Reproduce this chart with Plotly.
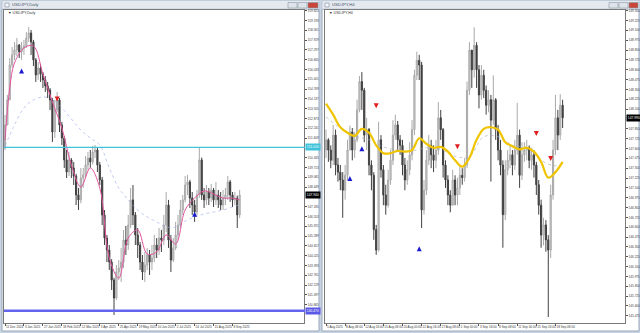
import plotly.graph_objects as go

W, H = 640, 333

# ---------------- Left panel: USDJPY, Daily ----------------
d_first_open = 150.97
d_close = [152.45, 154.07, 156.32, 156.97, 157.29, 157.61, 157.16, 157.42, 157.55, 158.06,
           158.39, 157.81, 156.65, 155.68, 156.13, 155.74, 155.36, 154.97, 154.71, 154.07,
           152.00, 153.42, 154.07, 152.45, 151.61, 150.20, 149.42, 150.20, 149.68, 149.16,
           147.94, 147.62, 149.03, 149.23, 149.87, 150.32, 150.07, 150.71, 150.84, 149.87,
           148.91, 146.65, 145.16, 144.39, 143.61, 142.45, 141.29, 142.97, 143.23, 143.61,
           145.03, 144.71, 146.00, 147.62, 146.65, 145.36, 144.71, 143.61, 142.97, 143.42,
           144.07, 143.61, 143.87, 144.71, 144.39, 145.16, 145.03, 146.00, 147.29, 145.03,
           143.74, 144.52, 145.36, 146.00, 146.97, 147.62, 148.58, 148.78, 147.74, 147.29,
           146.84, 147.94, 150.20, 147.94, 147.62, 148.13, 147.74, 148.26, 147.62, 147.94,
           147.62, 147.29, 147.74, 147.94, 148.78, 147.94, 147.62, 147.74, 146.65, 147.94]
d_high = [153.10, 154.39, 156.77, 157.48, 157.81, 158.06, 157.68, 157.81, 157.94, 158.45,
          158.77, 158.58, 157.94, 156.77, 156.52, 156.39, 155.87, 155.61, 155.23, 154.84,
          154.20, 154.07, 154.58, 154.20, 152.65, 151.75, 150.84, 150.71, 150.32, 150.07,
          149.30, 148.39, 149.68, 149.68, 150.45, 150.71, 150.84, 151.10, 151.16, 151.00,
          150.07, 149.10, 146.97, 145.36, 144.71, 143.80, 142.60, 143.42, 143.74, 144.52,
          145.68, 145.94, 146.65, 148.39, 148.58, 146.84, 145.81, 144.91, 144.07, 144.26,
          144.52, 144.39, 144.71, 145.36, 145.16, 145.81, 145.68, 146.65, 148.13, 147.62,
          145.36, 145.16, 146.20, 146.65, 147.62, 147.94, 149.16, 149.23, 148.91, 148.13,
          147.62, 148.26, 150.97, 150.35, 148.39, 148.58, 148.39, 148.65, 148.39, 148.78,
          148.26, 148.13, 148.26, 148.39, 149.16, 148.91, 148.13, 148.13, 147.90, 148.26]
d_low = [150.84, 152.45, 154.07, 156.13, 156.65, 156.90, 156.77, 156.65, 156.97, 157.42,
         157.81, 156.97, 156.26, 155.23, 155.36, 155.23, 154.84, 154.58, 154.19, 153.42,
         151.36, 151.61, 153.29, 152.00, 151.16, 149.68, 149.03, 149.16, 149.03, 148.58,
         147.29, 146.97, 147.40, 148.39, 149.05, 149.55, 149.68, 149.90, 150.32, 149.42,
         148.58, 146.00, 144.71, 143.61, 143.10, 141.81, 140.20, 141.17, 142.45, 142.33,
         143.23, 144.07, 144.39, 145.81, 146.00, 144.71, 143.87, 143.10, 142.45, 142.33,
         143.10, 142.78, 143.10, 143.61, 143.87, 144.07, 144.26, 144.71, 145.55, 144.52,
         142.97, 143.61, 144.39, 145.03, 145.81, 146.65, 147.45, 147.94, 147.10, 146.65,
         146.20, 146.65, 147.75, 147.62, 147.10, 147.29, 147.29, 147.49, 147.16, 147.29,
         147.10, 146.97, 146.97, 147.29, 147.62, 147.49, 147.16, 147.29, 145.81, 146.45]
d_open = [d_first_open] + d_close[:-1]

d_fast_idx = [0, 2, 4, 8, 12, 16, 20, 24, 28, 32, 36, 40, 44, 48, 52, 56, 60, 64, 68, 72, 76, 80, 84, 88, 92, 96, 99]
d_fast_ma = [151.49, 154.84, 156.45, 157.42, 157.55, 155.74, 153.94, 152.26, 149.87, 148.45, 149.68, 148.39, 143.87,
             142.58, 145.16, 145.68, 144.13, 144.26, 145.36, 144.78, 146.97, 147.74, 148.20, 148.00, 147.74, 147.74, 147.62]
d_slow_idx = [0, 4, 8, 12, 16, 20, 24, 28, 32, 36, 40, 44, 48, 52, 56, 60, 64, 68, 72, 76, 80, 84, 88, 92, 96, 99]
d_slow_ma = [151.10, 152.45, 153.55, 154.07, 154.26, 154.13, 153.55, 152.84, 152.13, 151.61, 151.16, 149.68, 148.39,
             147.62, 146.97, 146.52, 146.20, 145.87, 145.87, 146.26, 146.52, 146.71, 146.84, 146.97, 147.16, 147.29]

d_buy_idx = [7, 80]
d_buy_price = [156.10, 146.86]
d_sell_idx = [22]
d_sell_price = [153.96]

d_level_cyan = 151.01
d_level_blue = 140.47

d_date_idx = [0, 8, 16, 24, 32, 40, 48, 56, 64, 72, 80, 88, 96]
d_date_labels = ["11 Dec 2024", "3 Jan 2025", "27 Jan 2025", "18 Feb 2025", "12 Mar 2025", "3 Apr 2025",
                 "25 Apr 2025", "19 May 2025", "10 Jun 2025", "2 Jul 2025", "24 Jul 2025", "15 Aug 2025", "8 Sep 2025"]
# the label that sits under the current-price tag is hidden in the reference, so it is left out
d_price_ticks = [159.825, 159.193, 158.561, 157.929, 157.297, 156.665, 156.033, 155.401, 154.769, 154.137,
                 153.505, 152.873, 152.241, 151.609, 150.345, 149.713, 149.081, 148.449,
                 147.185, 146.553, 145.921, 145.289, 144.657, 144.025, 143.393, 142.761, 142.129, 141.497,
                 140.865]

# ---------------- Right panel: USDJPY, H4 ----------------
h_first_open = 147.58
h_close = [147.71, 147.58, 147.45, 147.77, 147.39, 147.30, 147.20, 147.07, 147.26, 147.58,
           147.81, 147.58, 147.71, 148.09, 148.45, 148.34, 147.77, 147.84, 147.39, 147.26,
           146.57, 146.31, 147.71, 147.33, 147.01, 146.88, 147.20, 147.45, 147.77, 147.90,
           147.71, 147.64, 147.39, 147.20, 147.33, 147.52, 147.84, 148.53, 148.72, 148.66,
           146.82, 147.07, 147.45, 147.64, 147.52, 147.45, 147.58, 147.99, 147.84, 147.39,
           147.20, 147.01, 146.88, 147.20, 147.01, 147.10, 147.26, 147.23, 147.39, 148.34,
           148.85, 148.60, 148.91, 148.60, 148.28, 148.53, 148.34, 148.15, 148.22, 147.96,
           148.22, 147.84, 147.58, 147.39, 146.76, 147.33, 147.45, 147.52, 147.39, 147.58,
           147.77, 147.26, 147.52, 147.58, 147.61, 147.45, 147.52, 147.39, 147.14, 146.88,
           146.50, 146.63, 146.44, 146.31, 147.01, 147.58, 147.99, 147.77, 148.15, 147.99]
h_high = [147.84, 147.73, 147.64, 147.90, 147.84, 147.48, 147.39, 147.30, 147.39, 147.71,
          147.89, 147.86, 147.81, 148.22, 148.52, 148.57, 148.37, 147.99, 147.86, 147.45,
          147.30, 146.63, 147.94, 147.77, 147.39, 147.14, 147.33, 147.58, 147.96, 148.03,
          147.95, 147.77, 147.71, 147.48, 147.45, 147.68, 147.96, 148.60, 148.83, 148.79,
          148.70, 147.20, 147.58, 147.77, 147.71, 147.64, 147.71, 148.19, 148.09, 147.86,
          147.45, 147.26, 147.07, 147.33, 147.26, 147.23, 147.39, 147.35, 147.48, 148.45,
          148.95, 148.79, 149.14, 148.95, 148.66, 148.66, 148.60, 148.40, 148.34, 148.28,
          148.53, 148.24, 147.90, 147.71, 147.45, 147.45, 147.58, 147.64, 147.58, 147.71,
          148.18, 147.84, 147.68, 147.68, 147.71, 147.64, 147.61, 147.58, 147.43, 147.20,
          146.95, 146.72, 146.69, 146.50, 147.14, 147.71, 148.28, 148.09, 148.29, 148.22]
h_low = [147.48, 147.43, 147.35, 147.39, 147.26, 147.18, 147.07, 146.72, 146.95, 147.20,
         147.58, 147.45, 147.48, 147.68, 148.06, 148.09, 147.68, 147.58, 147.26, 147.07,
         146.44, 146.25, 146.29, 147.23, 146.88, 146.76, 146.85, 147.14, 147.39, 147.71,
         147.58, 147.52, 147.26, 147.07, 147.14, 147.26, 147.45, 147.77, 148.47, 148.47,
         146.59, 146.76, 147.01, 147.39, 147.35, 147.30, 147.35, 147.52, 147.71, 147.23,
         147.10, 146.88, 146.79, 146.88, 146.88, 146.88, 147.01, 147.14, 147.18, 147.35,
         148.28, 148.37, 148.50, 148.37, 148.11, 148.22, 148.24, 148.03, 148.06, 147.18,
         147.90, 147.71, 147.45, 147.26, 146.34, 146.69, 147.26, 147.35, 147.26, 147.33,
         147.52, 147.10, 147.20, 147.43, 147.45, 147.35, 147.33, 147.23, 147.01, 146.76,
         146.34, 146.37, 146.29, 145.46, 146.21, 146.95, 147.52, 147.58, 147.71, 147.86]
h_open = [h_first_open] + h_close[:-1]

h_fast_idx = list(range(0, 100, 3))
h_fast_ma = [148.17, 148.03, 147.87, 147.80, 147.76, 147.85, 147.80, 147.64, 147.54, 147.54, 147.57, 147.56,
             147.58, 147.73, 147.66, 147.61, 147.62, 147.56, 147.45, 147.37, 147.48, 147.71, 147.85, 147.87,
             147.84, 147.68, 147.63, 147.59, 147.61, 147.56, 147.43, 147.23, 147.30, 147.43]
h_slow_idx = [0, 6, 12, 18, 24, 30, 36, 42, 48, 54, 60, 66, 72, 78, 84, 90, 96, 99]
h_slow_ma = [148.00, 147.86, 147.76, 147.71, 147.62, 147.58, 147.57, 147.61, 147.59, 147.50, 147.50, 147.75,
             147.75, 147.64, 147.61, 147.45, 147.38, 147.42]

h_buy_idx = [10, 15, 39]
h_buy_price = [147.25, 147.63, 146.36]
h_sell_idx = [21, 55, 88, 94]
h_sell_price = [148.11, 147.59, 147.76, 147.44]

h_date_idx = [0, 8, 16, 24, 32, 40, 48, 56, 64, 72, 80, 88, 96]
h_date_labels = ["5 Aug 2025", "8 Aug 08:00", "12 Aug 16:00", "15 Aug 08:00", "20 Aug 00:00", "22 Aug 16:00",
                 "27 Aug 08:00", "1 Sep 00:00", "3 Sep 16:00", "8 Sep 08:00", "11 Sep 00:00", "15 Sep 16:00",
                 "18 Sep 08:00"]
h_price_ticks = [149.350, 149.225, 149.100, 148.975, 148.850, 148.725, 148.600, 148.475, 148.350, 148.225,
                 148.100, 147.850, 147.725, 147.600, 147.475, 147.350, 147.225, 147.100, 146.975,
                 146.850, 146.725, 146.600, 146.475, 146.350, 146.225, 146.100, 145.975, 145.850, 145.725,
                 145.600, 145.475]

# ---------------- helpers ----------------
def fx(x):
    return x / W

def fy(y):
    return 1 - y / H

FONT = "Liberation Sans"
tick_font = dict(family=FONT, size=3.1, color="#3a3a3a")

fig = go.Figure()

candle_style = dict(
    increasing=dict(line=dict(color="#a9a9a9", width=1), fillcolor="#d2d2d2"),
    decreasing=dict(line=dict(color="#404040", width=1), fillcolor="#404040"),
    whiskerwidth=0, hoverinfo="skip", showlegend=False,
)

fig.add_trace(go.Candlestick(x=list(range(len(d_close))), open=d_open, high=d_high, low=d_low,
                             close=d_close, xaxis="x", yaxis="y", **candle_style))
fig.add_trace(go.Scatter(x=d_slow_idx, y=d_slow_ma, mode="lines", xaxis="x", yaxis="y",
                         line=dict(color="#9aa6ea", width=0.6, dash="dot", shape="spline"),
                         hoverinfo="skip", showlegend=False))
fig.add_trace(go.Scatter(x=d_fast_idx, y=d_fast_ma, mode="lines", xaxis="x", yaxis="y",
                         line=dict(color="#e2559f", width=1.0, shape="spline"),
                         hoverinfo="skip", showlegend=False))
fig.add_trace(go.Scatter(x=d_buy_idx, y=d_buy_price, mode="markers", xaxis="x", yaxis="y",
                         marker=dict(symbol="arrow-up", size=5, color="#1a1ad0"),
                         hoverinfo="skip", showlegend=False))
fig.add_trace(go.Scatter(x=d_sell_idx, y=d_sell_price, mode="markers", xaxis="x", yaxis="y",
                         marker=dict(symbol="arrow-down", size=5, color="#e01e1e"),
                         hoverinfo="skip", showlegend=False))

fig.add_trace(go.Candlestick(x=list(range(len(h_close))), open=h_open, high=h_high, low=h_low,
                             close=h_close, xaxis="x2", yaxis="y2", **candle_style))
fig.add_trace(go.Scatter(x=h_slow_idx, y=h_slow_ma, mode="lines", xaxis="x2", yaxis="y2",
                         line=dict(color="#a8a8a8", width=0.6, dash="dot", shape="spline"),
                         hoverinfo="skip", showlegend=False))
fig.add_trace(go.Scatter(x=h_fast_idx, y=h_fast_ma, mode="lines", xaxis="x2", yaxis="y2",
                         line=dict(color="#f0c400", width=2.2, shape="spline"),
                         hoverinfo="skip", showlegend=False))
fig.add_trace(go.Scatter(x=h_buy_idx, y=h_buy_price, mode="markers", xaxis="x2", yaxis="y2",
                         marker=dict(symbol="arrow-up", size=5, color="#1a1ad0"),
                         hoverinfo="skip", showlegend=False))
fig.add_trace(go.Scatter(x=h_sell_idx, y=h_sell_price, mode="markers", xaxis="x2", yaxis="y2",
                         marker=dict(symbol="arrow-down", size=5, color="#e01e1e"),
                         hoverinfo="skip", showlegend=False))

ydom = [1 - 323 / H, 1 - 10 / H]
axis_common = dict(showgrid=False, zeroline=False, showline=True, mirror=True, linecolor="#7a7a7a",
                   linewidth=1, ticks="outside", ticklen=2, tickcolor="#555", tickfont=tick_font,
                   fixedrange=True)

fig.update_layout(
    width=W, height=H, margin=dict(l=0, r=0, t=0, b=0),
    paper_bgcolor="#c9d4e2", plot_bgcolor="#ffffff", showlegend=False, hovermode=False,
    xaxis=dict(domain=[fx(4), fx(304)], range=[-0.42, 126.16], anchor="y", tickangle=0,
               tickvals=d_date_idx, ticktext=d_date_labels, ticklabelposition="outside right",
               rangeslider=dict(visible=False), **axis_common),
    yaxis=dict(domain=ydom, range=[139.68, 159.87], anchor="x", side="right",
               tickvals=d_price_ticks, tickformat=".3f", **axis_common),
    xaxis2=dict(domain=[fx(325), fx(625)], range=[-0.42, 125.1], anchor="y2", tickangle=0,
                tickvals=h_date_idx, ticktext=h_date_labels, ticklabelposition="outside right",
                rangeslider=dict(visible=False), **axis_common),
    yaxis2=dict(domain=ydom, range=[145.384, 149.359], anchor="x2", side="right",
                tickvals=h_price_ticks, tickformat=".3f", **axis_common),
)

shapes = []
# window client areas and title bars
for x0, x1 in [(2, 319), (322, 639)]:
    shapes.append(dict(type="rect", xref="paper", yref="paper", x0=fx(x0), x1=fx(x1), y0=fy(331), y1=fy(9),
                       fillcolor="#ffffff", line=dict(color="#9aa9bd", width=1), layer="below"))
    shapes.append(dict(type="rect", xref="paper", yref="paper", x0=fx(x0), x1=fx(x1), y0=fy(9), y1=fy(0.5),
                       fillcolor="#e4e9f0", line=dict(color="#b4c0cf", width=0.6), layer="below"))
    shapes.append(dict(type="rect", xref="paper", yref="paper", x0=fx(x0 + 3), x1=fx(x0 + 7), y0=fy(7), y1=fy(3),
                       fillcolor="#f4f6f9", line=dict(color="#7f8ea3", width=0.6), layer="below"))
for bx in [(288, 297), (298, 307), (308, 318), (609, 618), (619, 628), (629, 638)]:
    is_close = bx[0] in (308, 629)
    shapes.append(dict(type="rect", xref="paper", yref="paper", x0=fx(bx[0]), x1=fx(bx[1]), y0=fy(8), y1=fy(2.5),
                       fillcolor="#c9473a" if is_close else "#dfe4ea",
                       line=dict(color="#8c97a6", width=0.6), layer="below"))
shapes.append(dict(type="line", xref="paper", yref="y", x0=fx(4), x1=fx(305), y0=d_level_cyan, y1=d_level_cyan,
                   line=dict(color="#3ec3db", width=1.3)))
shapes.append(dict(type="line", xref="paper", yref="y", x0=fx(4), x1=fx(305), y0=d_level_blue, y1=d_level_blue,
                   line=dict(color="#6464ee", width=2.6)))
fig.update_layout(shapes=shapes)

ann = []
tag_font = dict(family=FONT, size=3.3)
def tag(xpx, yref, yval, text, bg, fg):
    ann.append(dict(xref="paper", yref=yref, x=fx(xpx), y=yval, xanchor="left", yanchor="middle",
                    text=text, showarrow=False, bgcolor=bg, borderpad=0.8,
                    font=dict(color=fg, **tag_font)))

tag(305, "y", d_level_cyan, f"{d_level_cyan:.3f}", "#3ec3db", "#ffffff")
tag(305, "y", d_level_blue, f"{d_level_blue:.3f}", "#5a5ae6", "#ffffff")
tag(305, "y", d_close[-1], f"{d_close[-1]:.3f}", "#000000", "#ffffff")
tag(626, "y2", h_close[-1], f"{h_close[-1]:.3f}", "#000000", "#ffffff")

for xpx, txt in [(6, "▼ USDJPY,Daily"), (327, "▼ USDJPY,H4")]:
    ann.append(dict(xref="paper", yref="paper", x=fx(xpx), y=fy(13), xanchor="left", yanchor="middle",
                    text=txt, showarrow=False, font=dict(family=FONT, size=3.6, color="#333333")))
for xpx, txt in [(10, "USDJPY,Daily"), (330, "USDJPY,H4")]:
    ann.append(dict(xref="paper", yref="paper", x=fx(xpx), y=fy(5), xanchor="left", yanchor="middle",
                    text=txt, showarrow=False, font=dict(family=FONT, size=4.2, color="#4a5566")))
fig.update_layout(annotations=ann)

fig.write_html("out.html")
